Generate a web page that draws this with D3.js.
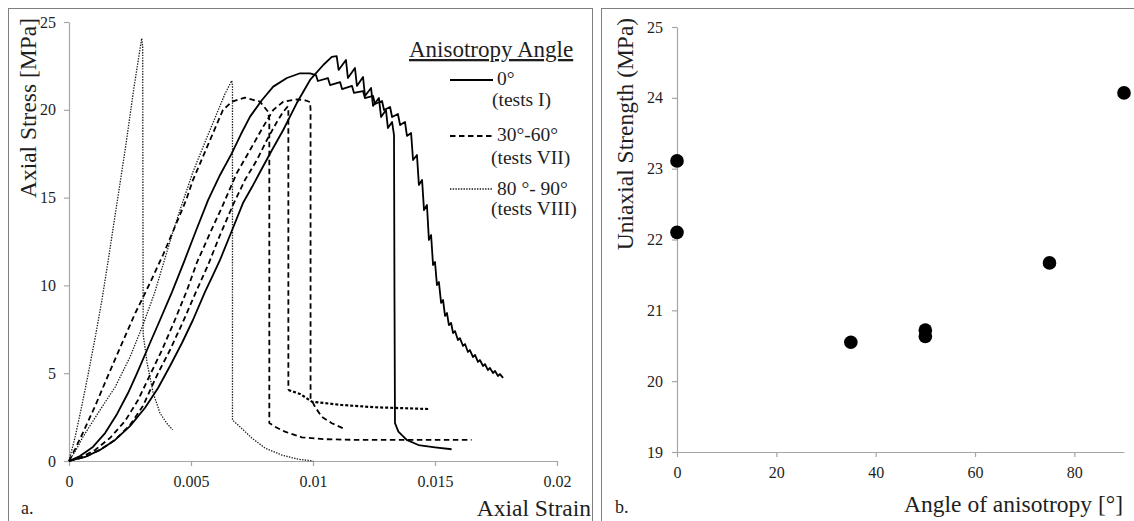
<!DOCTYPE html>
<html><head><meta charset="utf-8">
<script src="https://cdn.jsdelivr.net/npm/d3@7"></script>
<style>
html,body{margin:0;padding:0;background:#fff;}
svg{display:block;font-family:"Liberation Serif","Times New Roman",Times,serif;}
svg text{font-family:"Liberation Serif","Times New Roman",Times,serif;}
</style></head><body>
<svg id="chart" width="1134" height="521"></svg>
<script>
// ---------- Panel a: stress-strain curves [strain, stress MPa] ----------
const strainTicks = [0, 0.005, 0.01, 0.015, 0.02];
const strainTickLabels = ["0", "0.005", "0.01", "0.015", "0.02"];
const stressTicks = [0, 5, 10, 15, 20, 25];

// 0° (tests I) – first test, peak ≈ 22.1 MPa
const test0a = [
  [0,0],[0.00045,0.28],[0.00098,0.8],[0.00148,1.59],[0.00197,2.68],[0.00242,3.87],[0.00279,5.01],
  [0.00332,6.72],[0.00373,8.03],[0.00422,9.62],[0.00471,11.33],[0.0052,13.1],[0.0057,14.86],
  [0.00619,16.29],[0.00667,17.52],[0.00705,18.62],[0.00742,19.61],[0.00791,20.56],[0.00837,21.32],
  [0.00893,21.81],[0.00947,22.08],[0.00988,22.07],[0.01012,21.98],[0.0102,21.64],[0.01061,21.81],
  [0.0107,21.41],[0.01111,21.58],[0.01119,21.18],[0.0116,21.36],[0.01168,20.96],[0.01205,21.07],
  [0.01213,20.67],[0.01246,20.79],[0.01254,20.33],[0.01283,20.5],[0.01291,19.99],[0.01316,20.16],
  [0.01324,19.59],[0.01348,19.76],[0.01357,19.13],[0.01377,19.31],[0.01385,18.51],[0.01402,18.68],
  [0.0141,17.14],[0.01426,17.43],[0.01434,15.72],[0.01447,16.0],[0.01455,14.29],[0.01467,14.58],
  [0.01475,12.59],[0.01484,12.87],[0.01492,11.16],[0.015,11.33],[0.01508,10.02],[0.01516,10.19],
  [0.01525,9.0],[0.01533,9.17],[0.01541,8.26],[0.01549,8.43],[0.01557,7.74],[0.01566,7.86],
  [0.01574,7.29],[0.01582,7.4],[0.01594,6.89],[0.01602,7.0],[0.01615,6.55],[0.01623,6.66],
  [0.01635,6.21],[0.01643,6.32],[0.01656,5.92],[0.01664,6.04],[0.01676,5.64],[0.01684,5.75],
  [0.01697,5.41],[0.01705,5.52],[0.01717,5.18],[0.01725,5.3],[0.01738,5.01],[0.01746,5.13],
  [0.01758,4.84],[0.01766,4.95],[0.01779,4.73]
];
// 0° (tests I) – second test, peak ≈ 23.1 MPa
const test0b = [
  [0,0],[0.00066,0.23],[0.00127,0.63],[0.00189,1.2],[0.0025,1.99],[0.00311,3.02],[0.00365,4.16],
  [0.00414,5.41],[0.00463,6.72],[0.00508,8.03],[0.00557,9.62],[0.0059,10.59],[0.00619,11.45],
  [0.00672,13.27],[0.00713,14.69],[0.0075,15.6],[0.00783,16.46],[0.00832,17.71],[0.00878,18.85],
  [0.00933,20.37],[0.00988,21.7],[0.01042,22.55],[0.01077,23.01],[0.01097,23.06],[0.01105,22.27],
  [0.01135,22.84],[0.01143,21.81],[0.01172,22.38],[0.0118,21.36],[0.01205,21.87],[0.01213,20.79],
  [0.01238,21.24],[0.01246,20.22],[0.0127,20.67],[0.01279,19.59],[0.01299,19.99],[0.01307,18.96],
  [0.01324,19.31],[0.01332,18.56],[0.01334,9.17],[0.01336,2.16],[0.0135,1.67],[0.01384,1.2],
  [0.01432,0.91],[0.015,0.78],[0.01568,0.67]
];
// 30°-60° (tests VII)
const test30a = [
  [0,0],[0.00025,0.68],[0.00066,1.88],[0.00107,3.13],[0.00156,4.73],[0.00209,6.44],[0.0027,8.37],
  [0.00332,10.14],[0.00385,11.73],[0.00434,13.33],[0.0048,14.86],[0.00508,16.0],[0.00578,18.28],
  [0.00631,19.99],[0.00667,20.46],[0.00721,20.69],[0.00783,20.46],[0.00816,19.89],[0.00821,19.42],
  [0.00821,2.16],[0.00844,1.95],[0.00885,1.67],[0.00954,1.35],[0.01049,1.24],[0.01184,1.2],
  [0.01459,1.2],[0.0165,1.2]
];
const test30b = [
  [0,0],[0.00066,0.23],[0.00127,0.63],[0.00189,1.2],[0.0025,2.05],[0.00303,3.13],[0.00365,5.01],
  [0.00414,6.32],[0.00467,7.92],[0.0052,9.62],[0.0057,11.16],[0.00619,12.87],[0.00672,14.58],
  [0.00721,16.0],[0.0077,17.14],[0.00811,18.28],[0.00852,19.31],[0.00877,19.87],[0.00896,20.18],
  [0.00899,19.99],[0.00899,4.04]
];
const test30bTail = [
  [0.00899,4.04],[0.00947,3.82],[0.00995,3.38],[0.01118,3.19],[0.01254,3.06],[0.01473,2.96]
];
const test30c = [
  [0,0],[0.00053,0.23],[0.00107,0.63],[0.00168,1.31],[0.0023,2.28],[0.00283,3.47],[0.00332,4.9],
  [0.00381,6.32],[0.00434,8.03],[0.00484,9.74],[0.00525,11.33],[0.00578,12.98],[0.00627,14.46],
  [0.00687,16.38],[0.00742,17.71],[0.00796,19.04],[0.00837,19.99],[0.00878,20.46],[0.00933,20.59],
  [0.00971,20.53],[0.00988,20.44],[0.0099,19.99],[0.0099,3.59],[0.01008,3.09],[0.01036,2.52],
  [0.01077,2.15],[0.01124,1.86]
];
// 80°-90° (tests VIII)
const test80a = [
  [0,0],[0.00029,0.63],[0.00057,1.37],[0.00127,2.9],[0.00189,4.21],[0.0025,5.92],[0.00303,7.74],
  [0.00352,9.62],[0.00385,11.16],[0.00422,12.87],[0.00455,14.29],[0.00508,16.46],[0.00566,18.45],
  [0.00607,19.82],[0.00639,20.9],[0.00667,21.66],[0.0067,21.41],[0.0067,2.33],[0.00693,2.05],
  [0.00749,1.31],[0.00803,0.74],[0.00872,0.34],[0.00939,0.1],[0.01001,0]
];
const test80b = [
  [0,0],[0.00025,1.37],[0.00049,2.9],[0.00078,4.9],[0.00107,7.0],[0.00135,9.17],[0.00161,11.45],
  [0.00189,14.0],[0.0023,17.71],[0.00266,21.24],[0.00298,24.07],[0.00302,23.6],[0.00303,15.0],
  [0.00304,7.2],[0.0032,5.6],[0.00345,3.87],[0.00373,2.73],[0.004,2.16],[0.00425,1.77]
];

const legendTitle = "Anisotropy Angle";
const legendLabels = [["0°", "(tests I)"], ["30°-60°", "(tests VII)"], ["80 °- 90°", "(tests VIII)"]];

// ---------- Panel b: uniaxial strength vs angle ----------
const angleTicks = [0, 20, 40, 60, 80];
const strengthTicks = [19, 20, 21, 22, 23, 24, 25];
const angles = [0, 0, 35, 50, 50, 75, 90];
const strengths = [23.11, 22.1, 20.55, 20.72, 20.63, 21.67, 24.07];

// ---------- drawing ----------
const svg = d3.select("#chart");
const FONT = '"Liberation Serif","Times New Roman",Times,serif';
const AXIS = "#a6a6a6", TXT = "#1e1e1e";

// frames
svg.append("rect").attr("x", 8.5).attr("y", 8.5).attr("width", 584).attr("height", 530)
  .attr("fill", "none").attr("stroke", "#7f7f7f").attr("stroke-width", 1);
svg.append("rect").attr("x", 601.5).attr("y", 8.5).attr("width", 560).attr("height", 530)
  .attr("fill", "none").attr("stroke", "#7f7f7f").attr("stroke-width", 1);

function styleAxis(g) {
  g.attr("font-family", FONT).attr("font-size", 16);
  g.select(".domain").attr("stroke", AXIS).attr("stroke-width", 1.2);
  g.selectAll(".tick line").attr("stroke", AXIS).attr("stroke-width", 1.2);
  g.selectAll(".tick text").attr("fill", TXT).attr("font-family", FONT).attr("font-size", 16);
}

// Panel a scales
const xA = d3.scaleLinear().domain([0, 0.02]).range([69, 557]);
const yA = d3.scaleLinear().domain([0, 25]).range([461, 22]);

svg.append("g").attr("transform", "translate(0,461)")
  .call(d3.axisBottom(xA).tickValues(strainTicks).tickFormat((d, i) => strainTickLabels[i])
    .tickSize(5).tickSizeOuter(0).tickPadding(10))
  .call(styleAxis);
svg.append("g").attr("transform", "translate(69,0)")
  .call(d3.axisLeft(yA).tickValues(stressTicks).tickFormat(d3.format("d"))
    .tickSize(5).tickSizeOuter(0).tickPadding(8))
  .call(styleAxis);

const lineA = d3.line().x(d => xA(d[0])).y(d => yA(d[1]));
const styles = {
  solid:  {stroke: "#000", width: 1.8, dash: null},
  dashed: {stroke: "#000", width: 1.8, dash: "5.5,3.5"},
  dense:  {stroke: "#000", width: 2.2, dash: "3,2"},
  dotted: {stroke: "#1a1a1a", width: 1.3, dash: "1.4,1.3"}
};
const curves = [
  [test80b, "dotted"], [test80a, "dotted"],
  [test30a, "dashed"], [test30b, "dashed"], [test30bTail, "dense"], [test30c, "dashed"],
  [test0a, "solid"], [test0b, "solid"]
];
svg.append("g").selectAll("path").data(curves).join("path")
  .attr("d", d => lineA(d[0]))
  .attr("fill", "none")
  .attr("stroke", d => styles[d[1]].stroke)
  .attr("stroke-width", d => styles[d[1]].width)
  .attr("stroke-dasharray", d => styles[d[1]].dash)
  .attr("stroke-linejoin", "round");

// axis titles panel a
svg.append("text").attr("transform", "translate(36,108) rotate(-90)")
  .attr("text-anchor", "middle").attr("fill", TXT)
  .style("font-size", "23.5px").text("Axial Stress [MPa]");
svg.append("text").attr("x", 591).attr("y", 516).attr("text-anchor", "end").attr("fill", TXT)
  .style("font-size", "23.5px").text("Axial Strain");
svg.append("text").attr("x", 21).attr("y", 514).attr("fill", TXT)
  .style("font-size", "18px").text("a.");

// legend
svg.append("text").attr("x", 409).attr("y", 57).attr("fill", TXT)
  .attr("text-decoration", "underline").style("font-size", "23px").text(legendTitle);
const legY = [80, 136, 189];
const legKeys = ["solid", "dashed", "dotted"];
const legLabelY = [[85, 106], [141, 164], [195, 215]];
const legLabelX = [[497, 492], [497, 491], [497, 491]];
legendLabels.forEach((lab, i) => {
  const s = styles[legKeys[i]];
  svg.append("line").attr("x1", 450).attr("x2", 493).attr("y1", legY[i]).attr("y2", legY[i])
    .attr("stroke", s.stroke).attr("stroke-width", s.width).attr("stroke-dasharray", s.dash);
  svg.append("text").attr("x", legLabelX[i][0]).attr("y", legLabelY[i][0]).attr("fill", TXT)
    .style("font-size", "19.5px").text(lab[0]);
  svg.append("text").attr("x", legLabelX[i][1]).attr("y", legLabelY[i][1]).attr("fill", TXT)
    .style("font-size", "19.5px").text(lab[1]);
});

// Panel b
const xB = d3.scaleLinear().domain([0, 90]).range([677, 1124]);
const yB = d3.scaleLinear().domain([19, 25]).range([452, 27]);

svg.append("g").attr("transform", "translate(0,452)")
  .call(d3.axisBottom(xB).tickValues(angleTicks).tickFormat(d3.format("d"))
    .tickSize(5).tickSizeOuter(0).tickPadding(10))
  .call(styleAxis);
svg.append("g").attr("transform", "translate(677,0)")
  .call(d3.axisLeft(yB).tickValues(strengthTicks).tickFormat(d3.format("d"))
    .tickSize(5).tickSizeOuter(0).tickPadding(9))
  .call(styleAxis);

svg.append("g").selectAll("circle").data(angles.map((a, i) => [a, strengths[i]])).join("circle")
  .attr("cx", d => xB(d[0])).attr("cy", d => yB(d[1])).attr("r", 6.8).attr("fill", "#000");

svg.append("text").attr("transform", "translate(633,134) rotate(-90)")
  .attr("text-anchor", "middle").attr("fill", TXT)
  .style("font-size", "23.5px").text("Uniaxial Strength (MPa)");
svg.append("text").attr("x", 1123).attr("y", 512).attr("text-anchor", "end").attr("fill", TXT)
  .style("font-size", "23.5px").text("Angle of anisotropy [°]");
svg.append("text").attr("x", 615).attr("y", 513).attr("fill", TXT)
  .style("font-size", "18px").text("b.");
</script></body></html>
